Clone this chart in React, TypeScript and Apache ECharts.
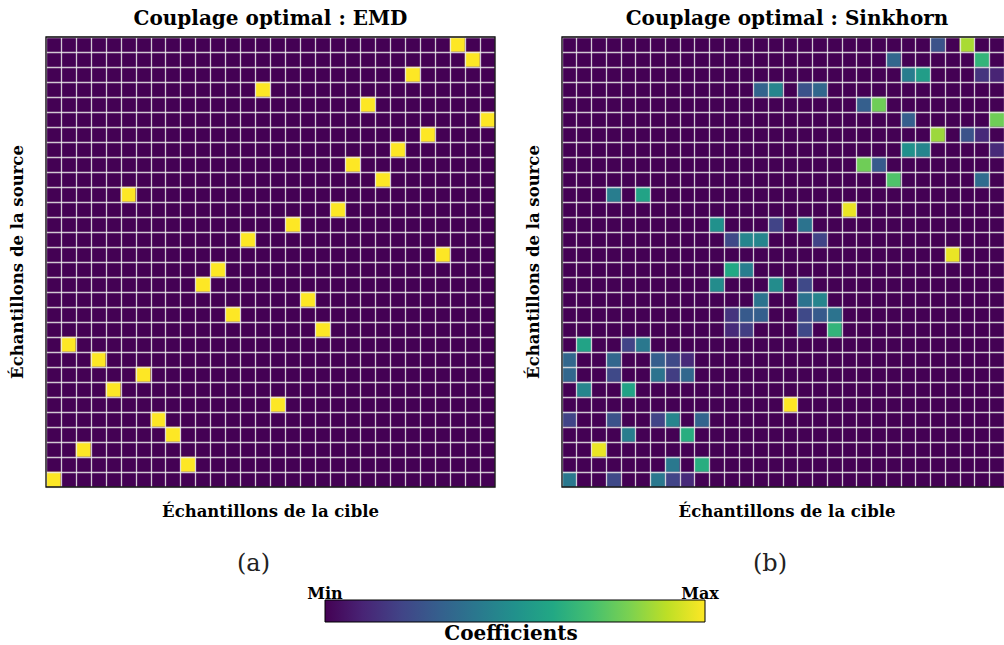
import React, { useEffect, useRef } from "react";
import * as echarts from "echarts";

// ---------- data ----------
const SAMPLE_COUNT = 30;
const SAMPLE_LABELS: string[] = Array.from({ length: SAMPLE_COUNT }, (_, i) => String(i));

// EMD: one matched target column for each source row (row 0 = top)
const EMD_COLUMN_FOR_ROW = [
  27, 28, 24, 14, 21, 29, 25, 23, 20, 22, 5, 19, 16, 13, 26,
  11, 10, 17, 12, 18, 1, 3, 6, 4, 15, 7, 8, 2, 9, 0,
];

// Sinkhorn: non-zero cells as [row, column, value in 0..1]
const SINKHORN_CELLS: [number, number, number][] = [
  [0, 25, 0.25], [0, 27, 0.87],
  [1, 22, 0.33], [1, 28, 0.65],
  [2, 23, 0.42], [2, 24, 0.55], [2, 28, 0.15], [2, 29, 0.1],
  [3, 13, 0.32], [3, 14, 0.45], [3, 16, 0.25], [3, 17, 0.33],
  [4, 20, 0.3], [4, 21, 0.78],
  [5, 23, 0.3], [5, 29, 0.78],
  [6, 25, 0.85], [6, 27, 0.25], [6, 28, 0.12],
  [7, 23, 0.5], [7, 24, 0.45], [7, 29, 0.12],
  [8, 20, 0.78], [8, 21, 0.28],
  [9, 22, 0.72], [9, 28, 0.35],
  [10, 3, 0.42], [10, 5, 0.58],
  [11, 19, 0.97],
  [12, 10, 0.5], [12, 14, 0.2], [12, 16, 0.38],
  [13, 11, 0.22], [13, 12, 0.45], [13, 13, 0.45], [13, 17, 0.2],
  [14, 26, 0.97],
  [15, 11, 0.6], [15, 12, 0.42],
  [16, 10, 0.48], [16, 14, 0.48], [16, 16, 0.22],
  [17, 13, 0.38], [17, 16, 0.38], [17, 17, 0.45],
  [18, 11, 0.15], [18, 12, 0.28], [18, 13, 0.3], [18, 16, 0.22], [18, 17, 0.28], [18, 18, 0.38],
  [19, 11, 0.12], [19, 12, 0.18], [19, 16, 0.22], [19, 18, 0.65],
  [20, 1, 0.58], [20, 4, 0.2], [20, 5, 0.4],
  [21, 0, 0.33], [21, 3, 0.33], [21, 6, 0.3], [21, 7, 0.22], [21, 8, 0.12],
  [22, 0, 0.33], [22, 3, 0.22], [22, 6, 0.38], [22, 7, 0.18], [22, 8, 0.33],
  [23, 1, 0.45], [23, 4, 0.58],
  [24, 15, 1.0],
  [25, 0, 0.2], [25, 3, 0.25], [25, 6, 0.2], [25, 7, 0.45], [25, 9, 0.32],
  [26, 4, 0.42], [26, 8, 0.62],
  [27, 2, 0.97],
  [28, 7, 0.4], [28, 9, 0.62],
  [29, 0, 0.4], [29, 3, 0.22], [29, 6, 0.4], [29, 7, 0.2], [29, 8, 0.12],
];

const PANEL_TITLES = ["Couplage optimal : EMD", "Couplage optimal : Sinkhorn"];
const PANEL_LETTERS = ["(a)", "(b)"];
const X_AXIS_NAME = "Échantillons de la cible";
const Y_AXIS_NAME = "Échantillons de la source";
const COLORBAR_LABELS = { min: "Min", max: "Max", title: "Coefficients" };

const VIRIDIS = [
  "#440154", "#482475", "#414487", "#355f8d", "#2a788e", "#21918c",
  "#22a884", "#44bf70", "#7ad151", "#bddf26", "#fde725",
];

// ---------- build ----------
function buildMatrix(cells: [number, number, number][]): number[][] {
  const m: number[][] = [];
  for (let r = 0; r < SAMPLE_COUNT; r++) m.push(new Array(SAMPLE_COUNT).fill(0));
  cells.forEach(([r, c, v]) => (m[r][c] = v));
  return m;
}

function toHeatmapData(m: number[][]) {
  const out: [number, number, number][] = [];
  m.forEach((row, r) => row.forEach((v, c) => out.push([c, r, v])));
  return out;
}

const emdMatrix = buildMatrix(EMD_COLUMN_FOR_ROW.map((c, r) => [r, c, 1] as [number, number, number]));
const sinkhornMatrix = buildMatrix(SINKHORN_CELLS);

const SERIF = "DejaVu Serif";

export default function App() {
  const ref = useRef<HTMLDivElement>(null);

  useEffect(() => {
    if (!ref.current) return;
    const chart = echarts.init(ref.current, undefined, { renderer: "svg" });

    const grids = [
      { left: 46, top: 37, width: 449, height: 450 },
      { left: 562, top: 37, width: 450, height: 450 },
    ];

    const axisNameStyle = {
      fontFamily: SERIF,
      fontWeight: "bold" as const,
      fontSize: 16.5,
      color: "#000",
    };

    const splitLine = {
      show: true,
      interval: 0,
      lineStyle: { color: "rgba(235,235,235,0.85)", width: 1.3 },
    };

    const option: any = {
      animation: false,
      backgroundColor: "#ffffff",
      title: PANEL_TITLES.map((t, i) => ({
        text: t,
        left: grids[i].left + grids[i].width / 2,
        top: 8,
        padding: 0,
        textAlign: "center",
        textStyle: { fontFamily: SERIF, fontWeight: "bold", fontSize: 20, color: "#000" },
      })),
      grid: grids,
      xAxis: grids.map((g, i) => ({
        type: "category",
        gridIndex: i,
        data: SAMPLE_LABELS,
        z: 10,
        axisLine: { show: false },
        axisTick: { show: false },
        axisLabel: { show: false },
        splitLine,
        name: X_AXIS_NAME,
        nameLocation: "middle",
        nameGap: 16,
        nameTextStyle: { ...axisNameStyle, padding: i === 1 ? [0, 0, 0, 8] : 0 },
      })),
      yAxis: grids.map((_, i) => ({
        type: "category",
        gridIndex: i,
        data: SAMPLE_LABELS,
        inverse: true,
        z: 10,
        axisLine: { show: false },
        axisTick: { show: false },
        axisLabel: { show: false },
        splitLine,
        name: Y_AXIS_NAME,
        nameLocation: "middle",
        nameGap: 20,
        nameTextStyle: axisNameStyle,
      })),
      visualMap: {
        show: false,
        min: 0,
        max: 1,
        seriesIndex: [0, 1],
        inRange: { color: VIRIDIS },
      },
      series: [
        { type: "heatmap", xAxisIndex: 0, yAxisIndex: 0, data: toHeatmapData(emdMatrix), z: 2 },
        { type: "heatmap", xAxisIndex: 1, yAxisIndex: 1, data: toHeatmapData(sinkhornMatrix), z: 2 },
      ],
      graphic: [
        ...grids.map((g) => ({
          type: "rect",
          z: 100,
          shape: { x: g.left, y: g.top, width: g.width, height: g.height },
          style: { fill: "none", stroke: "#111", lineWidth: 1.3 },
          silent: true,
        })),
        ...PANEL_LETTERS.map((t, i) => ({
          type: "text",
          x: grids[i].left + grids[i].width / 2 - 17,
          y: 563,
          z: 100,
          style: {
            text: t,
            fill: "#222",
            font: "24px 'DejaVu Serif'",
            textAlign: "center",
            textVerticalAlign: "middle",
            align: "center",
            verticalAlign: "middle",
          },
        })),
        {
          type: "rect",
          z: 100,
          shape: { x: 325, y: 600, width: 380, height: 22 },
          style: {
            fill: new echarts.graphic.LinearGradient(
              0, 0, 1, 0,
              VIRIDIS.map((c, i) => ({ offset: i / (VIRIDIS.length - 1), color: c }))
            ),
            stroke: "#000",
            lineWidth: 1,
          },
        },
        {
          type: "text",
          x: 325,
          y: 593,
          z: 100,
          style: {
            text: COLORBAR_LABELS.min,
            fill: "#000",
            font: "bold 16px 'DejaVu Serif'",
            textAlign: "center",
            textVerticalAlign: "middle",
            align: "center",
            verticalAlign: "middle",
          },
        },
        {
          type: "text",
          x: 700,
          y: 593,
          z: 100,
          style: {
            text: COLORBAR_LABELS.max,
            fill: "#000",
            font: "bold 16px 'DejaVu Serif'",
            textAlign: "center",
            textVerticalAlign: "middle",
            align: "center",
            verticalAlign: "middle",
          },
        },
        {
          type: "text",
          x: 511,
          y: 633,
          z: 100,
          style: {
            text: COLORBAR_LABELS.title,
            fill: "#000",
            font: "bold 20px 'DejaVu Serif'",
            textAlign: "center",
            textVerticalAlign: "middle",
            align: "center",
            verticalAlign: "middle",
          },
        },
      ],
    };

    chart.setOption(option);
    return () => chart.dispose();
  }, []);

  return (
    <div
      ref={ref}
      style={{ position: "absolute", left: 0, top: 0, width: 1004, height: 645, background: "#fff" }}
    />
  );
}
